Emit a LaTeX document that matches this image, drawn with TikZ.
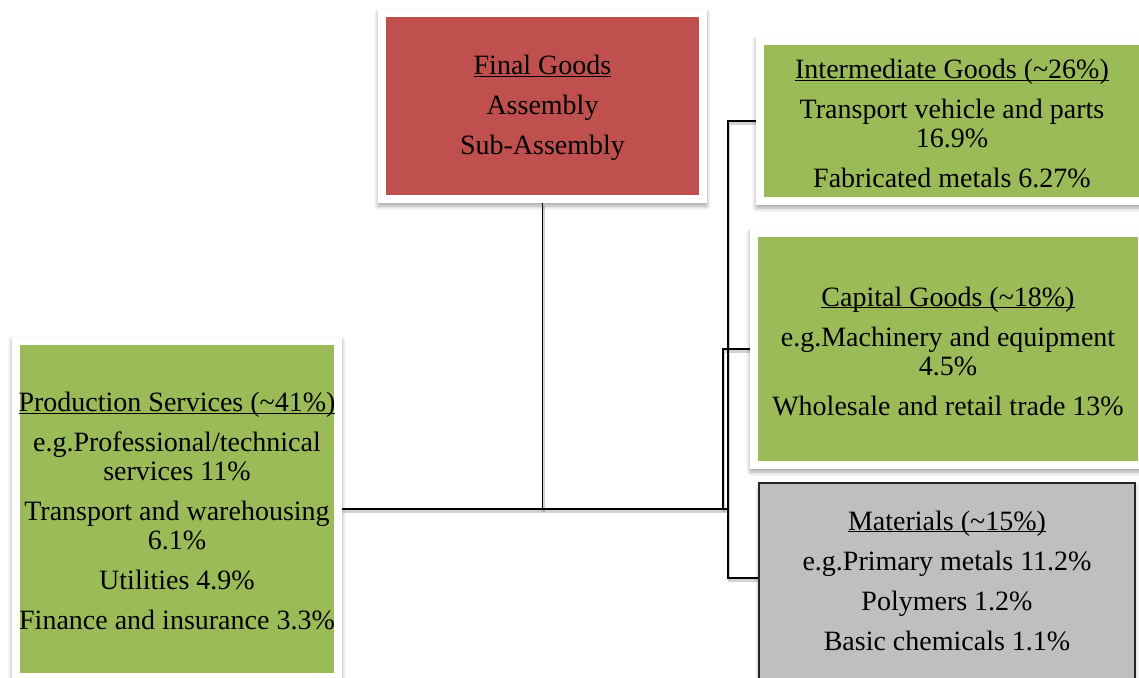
\documentclass[tikz,border=0pt]{standalone}
\usepackage{fontspec}
\setmainfont{Liberation Serif}
\usetikzlibrary{shadows.blur,backgrounds}
\definecolor{finalred}{RGB}{192,80,77}
\definecolor{boxgreen}{RGB}{155,187,89}
\definecolor{boxgrey}{RGB}{191,191,191}
% underlined heading with a fixed rule position and full line height
\newcommand\headline[1]{\rule{0pt}{24pt}\underline{\smash{#1}}}
\begin{document}
\begin{tikzpicture}[x=1pt,y=-1pt,
  boxtext/.style={align=center, inner sep=0pt,
    font=\fontsize{28}{29}\selectfont},
  softshadow/.style={blur shadow={shadow xshift=0pt, shadow yshift=-3pt,
    shadow blur radius=4pt, shadow opacity=35}},
  framed/.style={boxtext, softshadow, fill=white,
    path picture={\fill[#1]
      ([shift={(8pt,-8pt)}]path picture bounding box.north west) rectangle
      ([shift={(-8pt,8pt)}]path picture bounding box.south east);}},
  outlined/.style={boxtext, softshadow, fill=boxgrey, draw=black!85,
    line width=1.5pt},
  conn/.style={draw=black, line width=1.4pt,
    preaction={draw=black, opacity=0.18, line width=2.5pt,
      transform canvas={shift={(0.8pt,-2.5pt)}}}}
]
\useasboundingbox (0,0) rectangle (1139,677);

% Top: final goods
\node[framed=finalred, minimum width=329pt, minimum height=194pt] (fg) at (542.5,106)
  {\headline{Final Goods}\\[11pt] Assembly\\[11pt] Sub-Assembly};

% Right column
\node[framed=boxgreen, minimum width=392pt, minimum height=168pt] (ig) at (952,121)
  {\headline{Intermediate Goods (\textasciitilde26\%)}\\[11pt]
   Transport vehicle and parts\\ 16.9\%\\[11pt]
   Fabricated metals 6.27\%};

\node[framed=boxgreen, minimum width=396pt, minimum height=240pt] (cap) at (948,349)
  {\headline{Capital Goods (\textasciitilde18\%)}\\[11pt]
   e.g.Machinery and equipment\\ 4.5\%\\[11pt]
   Wholesale and retail trade 13\%};

\node[outlined, minimum width=376pt, minimum height=207pt] (mat) at (947,586.5)
  {\headline{Materials (\textasciitilde15\%)}\\[11pt]
   e.g.Primary metals 11.2\%\\[11pt]
   Polymers 1.2\%\\[11pt]
   Basic chemicals 1.1\%\rule[-17pt]{0pt}{0pt}};

% Left: production services
\node[framed=boxgreen, minimum width=330pt, minimum height=344pt] (prod) at (177,509)
  {\headline{Production Services (\textasciitilde41\%)}\\[11pt]
   e.g.Professional/technical\\ services 11\%\\[11pt]
   Transport and warehousing\\ 6.1\%\\[11pt]
   Utilities 4.9\%\\[11pt]
   Finance and insurance 3.3\%};

% Junction points on the main bus
\coordinate (busA) at (728,509);
\coordinate (busB) at (723,509);

\begin{scope}[on background layer]
  \draw[conn] (fg.south) -- (fg.south |- prod.east);
  \draw[conn] (busA) |- (ig.west);
  \draw[conn] (busA) |- ([yshift=8.5pt]mat.west);
  \draw[conn] (busB) |- (cap.west);
  \draw[conn, line width=2.6pt] (prod.east) -- (busA);
\end{scope}
\end{tikzpicture}
\end{document}
